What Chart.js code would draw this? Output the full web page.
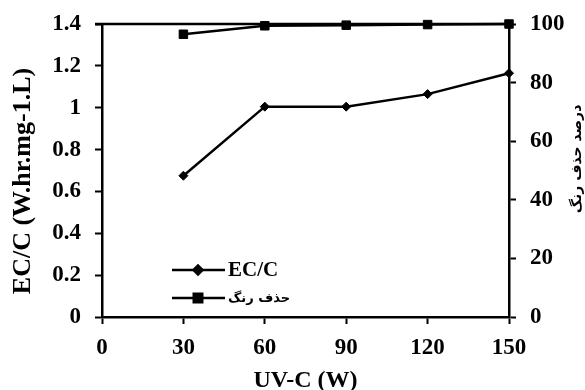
<!DOCTYPE html>
<html>
<head>
<meta charset="utf-8">
<script src="https://cdn.jsdelivr.net/npm/chart.js@4.4.1/dist/chart.umd.min.js"></script>
<style>
  html, body { margin: 0; padding: 0; background: #fff; }
  #wrap { width: 585px; height: 390px; }
</style>
</head>
<body>
<div id="wrap"><canvas id="chart" width="585" height="390"></canvas></div>
<script>
// values
const powers = [30, 60, 90, 120, 150];
const ecValues = [0.675, 1.005, 1.005, 1.065, 1.165];
const removalValues = [96.5, 99.4, 99.6, 99.8, 100];

const xTitle = 'UV-C (W)';
const leftTitle = 'EC/C (W.hr.mg-1.L)';
const rightTitle = 'درصد حذف رنگ';
const seriesNames = ['EC/C', 'حذف رنگ'];

const serif = "'Liberation Serif', 'Times New Roman', 'DejaVu Sans', serif";
const tickFont = { family: serif, size: 23, weight: 'bold' };
const plainNumber = v => String(Math.round(v * 10) / 10);

// top border of the plot, side titles and the inset legend
const extras = {
    id: 'extras',
    afterDraw(chart) {
        const ctx = chart.ctx;
        const area = chart.chartArea;
        ctx.save();
        ctx.strokeStyle = '#000';
        ctx.lineWidth = 2.5;
        ctx.beginPath();
        ctx.moveTo(area.left - 7, area.top);
        ctx.lineTo(area.right, area.top);
        ctx.stroke();

        ctx.fillStyle = '#000';
        ctx.textAlign = 'center';
        ctx.textBaseline = 'middle';

        ctx.save();
        ctx.font = 'bold 26px ' + serif;
        ctx.translate(23, 181);
        ctx.rotate(-Math.PI / 2);
        ctx.fillText(leftTitle, 0, 0);
        ctx.restore();

        ctx.save();
        ctx.font = "bold 14px 'DejaVu Sans', sans-serif";
        ctx.translate(577, 159);
        ctx.rotate(-Math.PI / 2);
        ctx.fillText(rightTitle, 0, 0);
        ctx.restore();
        ctx.restore();

        // legend
        const rows = [
            { y: 270, style: 'rectRot', radius: 4.5, font: 'bold 21px ' + serif },
            { y: 298, style: 'rect', radius: 6, font: "bold 13px 'DejaVu Sans', sans-serif" }
        ];
        rows.forEach((row, i) => {
            ctx.save();
            ctx.strokeStyle = '#000';
            ctx.fillStyle = '#000';
            ctx.lineWidth = 2.5;
            ctx.beginPath();
            ctx.moveTo(172, row.y);
            ctx.lineTo(225, row.y);
            ctx.stroke();
            Chart.helpers.drawPoint(ctx, { pointStyle: row.style, radius: row.radius, borderWidth: 1 }, 198, row.y);
            ctx.font = row.font;
            ctx.textAlign = 'left';
            ctx.textBaseline = 'middle';
            ctx.fillText(seriesNames[i], 228, row.y + 1);
            ctx.restore();
        });
    }
};

new Chart(document.getElementById('chart'), {
    type: 'line',
    data: {
        datasets: [
            {
                label: seriesNames[0],
                data: powers.map((p, i) => ({ x: p, y: ecValues[i] })),
                yAxisID: 'y',
                borderColor: '#000',
                backgroundColor: '#000',
                borderWidth: 2.5,
                pointStyle: 'rectRot',
                pointRadius: 4.5,
                pointBorderWidth: 1,
                clip: false
            },
            {
                label: seriesNames[1],
                data: powers.map((p, i) => ({ x: p, y: removalValues[i] })),
                yAxisID: 'y2',
                borderColor: '#000',
                backgroundColor: '#000',
                borderWidth: 2.5,
                pointStyle: 'rect',
                pointRadius: 6,
                pointBorderWidth: 1,
                clip: false
            }
        ]
    },
    options: {
        responsive: false,
        animation: false,
        layout: { padding: { top: 24, left: 0, right: 0, bottom: 0 } },
        plugins: { legend: { display: false }, tooltip: { enabled: false } },
        scales: {
            x: {
                type: 'linear',
                min: 0,
                max: 150,
                afterFit(scale) { scale.height = 73; scale.paddingLeft = 0; scale.paddingRight = 0; },
                ticks: { stepSize: 30, color: '#000', font: tickFont, padding: 10, maxRotation: 0 },
                grid: { drawOnChartArea: false, tickLength: 7, tickWidth: 2, tickColor: '#000' },
                border: { color: '#000', width: 2.5 },
                title: {
                    display: true, text: xTitle, color: '#000',
                    font: { family: serif, size: 24, weight: 'bold', lineHeight: 0.8 },
                    padding: { top: 0, bottom: 0 }
                }
            },
            y: {
                position: 'left',
                min: 0,
                max: 1.4,
                afterFit(scale) { scale.width = 102; scale.paddingTop = 0; scale.paddingBottom = 0; },
                ticks: { stepSize: 0.2, color: '#000', font: tickFont, padding: 14, callback: plainNumber },
                grid: { drawOnChartArea: false, tickLength: 7, tickWidth: 2, tickColor: '#000' },
                border: { color: '#000', width: 2.5 }
            },
            y2: {
                position: 'right',
                min: 0,
                max: 100,
                afterFit(scale) { scale.width = 76; scale.paddingTop = 0; scale.paddingBottom = 0; },
                ticks: { stepSize: 20, color: '#000', font: tickFont, padding: 14 },
                grid: { drawOnChartArea: false, tickLength: 7, tickWidth: 2, tickColor: '#000' },
                border: { color: '#000', width: 2.5 }
            }
        }
    },
    plugins: [extras]
});
</script>
</body>
</html>
